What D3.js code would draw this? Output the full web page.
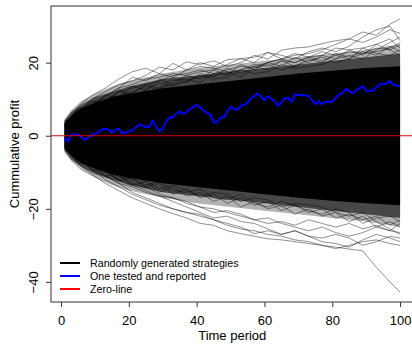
<!DOCTYPE html>
<html>
<head>
<meta charset="utf-8">
<script src="https://cdn.jsdelivr.net/npm/d3@7"></script>
<style>
  body { margin: 0; background: #fff; }
  svg { display: block; font-family: "Liberation Sans", Arial, sans-serif; }
</style>
</head>
<body>
<svg id="chart" width="412" height="345"></svg>
<script>
// one tested strategy, t = 1..100
const reported = [
  -0.5, -1.7, 0.3, 0.4, 0.3, -0.3, -1.2, -0.5, 0.2, 0.5,
  1.0, 1.8, 2.0, 1.6, 0.8, 1.5, 2.0, 0.6, 0.9, 1.2,
  1.5, 2.2, 3.1, 2.8, 2.4, 2.4, 4.2, 2.6, 1.2, 2.0,
  3.8, 5.0, 5.0, 6.1, 6.6, 5.9, 6.5, 7.2, 7.8, 8.5,
  7.8, 7.0, 6.3, 5.8, 3.7, 3.7, 5.0, 5.0, 6.5, 7.9,
  7.4, 7.0, 8.1, 8.5, 9.0, 10.2, 10.8, 11.6, 10.6, 9.7,
  10.8, 10.2, 9.5, 8.1, 9.1, 10.2, 10.4, 9.3, 11.3, 11.2,
  11.1, 11.1, 10.9, 9.8, 8.6, 9.5, 8.6, 9.3, 9.3, 9.3,
  10.4, 11.3, 11.6, 12.9, 12.2, 11.6, 12.4, 12.9, 13.6, 12.3,
  12.3, 12.3, 13.2, 14.1, 14.1, 14.3, 15.0, 14.0, 13.7, 13.6
];

// density of the random strategies
const bandTimes = [1, 3, 6, 10, 15, 20, 30, 40, 50, 60, 70, 80, 90, 100];
const coreUpper = [3.5, 5.5, 7.5, 9, 10.5, 11.5, 13, 14, 15, 16, 17, 17.8, 18.5, 19];
const coreLower = [-3.5, -5.5, -7.5, -9, -10.5, -11.5, -13, -14, -15, -16, -17, -17.8, -18.5, -19];
const midUpper = [4, 6.5, 8.5, 10.5, 12, 13.5, 15.5, 16.5, 17.5, 18.5, 19.5, 20.5, 21.5, 22.5];
const midLower = [-4, -6.5, -8.5, -10.5, -12, -13.5, -15.5, -16.5, -17.5, -18.5, -19.5, -20.5, -21.5, -22.5];
const outerUpper = [4.5, 7, 9.5, 11.5, 13.5, 15, 17, 18.5, 19.5, 20.5, 21.5, 22.5, 23.5, 25];
const outerLower = [-4.5, -7, -9.5, -11.5, -13.5, -15, -17, -18.5, -19.5, -20.5, -21.5, -22.5, -23.5, -25];

// individual strategies visible at the fringes
const fringeTimes = [1, 5, 9, 13, 17, 21, 25, 29, 33, 37, 41, 45, 49, 53, 57, 61, 65, 69, 73, 77, 81, 85, 89, 93, 97, 100];
const upper1 = [1, 3, 5, 7, 8, 10, 12, 13, 14, 15, 16, 16.5, 17, 18, 19, 20, 21, 22, 22.5, 23.5, 25, 26.5, 28.4, 27.5, 30.5, 32];
const upper2 = [2, 8, 11, 13, 15.5, 17.5, 18.5, 17, 19.8, 18, 20, 19, 20.8, 21.1, 20, 22.8, 21, 20, 21.5, 20.5, 22, 21, 22.5, 23, 24, 25.5];
const upper3 = [0.5, 6, 10, 12, 14, 15, 16.5, 18.8, 18, 20.2, 19.5, 20.5, 19, 20, 22, 21, 23.4, 24, 24.3, 25.2, 26, 26.5, 25.5, 27, 29, 28];
const upper4 = [1.5, 5, 8, 11, 13, 14, 15.5, 16, 17, 16.5, 17.5, 18, 19.5, 21.1, 21.5, 22.8, 22, 21, 23, 24, 23, 24.5, 27, 29, 30, 26];
const upper5 = [-0.5, 4, 7, 9, 12, 13, 14, 15, 16.5, 17, 18, 17, 18, 19, 18.5, 20, 21, 22.5, 21.5, 22, 24, 23.5, 24, 25, 26.5, 24];
const upper6 = [1, 7, 9, 10.5, 13, 16, 15, 17, 16, 18, 19, 18.5, 17.5, 18, 19.5, 19, 20.5, 20, 21.5, 23, 22, 23, 22.5, 24, 23.5, 22];
const upper7 = [3, 6, 9.5, 9, 12.5, 11.5, 14, 13, 16, 14.5, 17, 16, 18.5, 17, 19, 18, 20.5, 19, 21, 20, 22.5, 21.5, 23, 22, 24.5, 23];
const upper8 = [2.5, 7.5, 8, 11, 10.5, 13.5, 12.5, 15.5, 14, 16.5, 15.5, 18, 16.5, 19.5, 18, 20, 19, 21.5, 20, 22, 21, 23.5, 22, 25, 23.5, 25];
const upper9 = [4, 5.5, 8.5, 10, 11, 12, 13.5, 12.5, 15, 15.5, 14.5, 17, 17.5, 16, 18.5, 19.5, 18, 19, 20.5, 21.5, 20, 21, 24, 22.5, 22, 23.5];
const upper10 = [3, 7, 7.5, 9.5, 12, 11, 12.5, 14.5, 13.5, 15, 16.5, 15.5, 16, 18, 17, 17.5, 19.5, 18.5, 19, 19.5, 21, 22, 21, 23.5, 25.5, 27];
const lower1 = [-1, -5, -8, -11, -13, -15.5, -17, -18.5, -20, -21, -22, -23, -24.5, -25.5, -26, -27, -27.5, -28.5, -29, -30, -30.5, -31, -31.5, -36, -40, -42.8];
const lower2 = [-2.5, -7.5, -10.5, -13, -15, -17, -18.5, -20, -21.3, -22.5, -24, -24.5, -26, -26.8, -27.5, -28.2, -28.5, -29, -29.5, -30, -30.9, -30, -29, -28.5, -29.5, -30];
const lower3 = [-2, -6, -9, -12, -14, -16, -17.5, -19, -20, -21, -21.5, -23, -24, -25, -26.8, -26, -27, -26, -27.5, -28, -27, -28, -30, -29, -27.5, -28];
const lower4 = [-1.5, -5, -7.5, -10, -12, -13.5, -15, -16.5, -18, -19.5, -21, -22.5, -22, -23.5, -24, -25.5, -27, -26, -27.5, -29, -29.5, -30.5, -28.5, -27, -28, -29];
const lower5 = [0, -4, -7, -9.5, -11, -13, -14, -16, -17, -18, -19.5, -20, -21, -22, -23, -22.5, -24, -25, -26, -25, -26.5, -27.5, -26.5, -25, -26, -24];
const lower6 = [-2, -6.5, -9, -11, -13, -14, -15.5, -16.5, -17, -18.5, -19.5, -21, -20.5, -21.5, -23, -24, -23.5, -24.5, -23, -24, -25, -24, -25.5, -24.5, -26, -26.5];
const lower7 = [-3, -6, -9.5, -9, -12.5, -11.5, -14, -13, -16, -14.5, -17, -16, -18.5, -17, -19, -18, -20.5, -19, -21, -20, -22.5, -21.5, -23, -22, -24.5, -23];
const lower8 = [-2.5, -7.5, -8, -11, -10.5, -13.5, -12.5, -15.5, -14, -16.5, -15.5, -18, -16.5, -19.5, -18, -20, -19, -21.5, -20, -22, -21, -23.5, -22, -25, -23.5, -25];
const lower9 = [-4, -5.5, -8.5, -10, -11, -12, -13.5, -12.5, -15, -15.5, -14.5, -17, -17.5, -16, -18.5, -19.5, -18, -19, -20.5, -21.5, -20, -21, -24, -22.5, -22, -23.5];
const lower10 = [-3, -7, -7.5, -9.5, -12, -11, -12.5, -14.5, -13.5, -15, -16.5, -15.5, -16, -18, -17, -17.5, -19.5, -18.5, -19, -19.5, -21, -22, -21, -23.5, -25.5, -27];

const xTicks = [0, 20, 40, 60, 80, 100];
const yTicks = [-40, -20, 0, 20];
const legendLabels = ["Randomly generated strategies", "One tested and reported", "Zero-line"];
const legendColors = ["#000000", "#0000ff", "#ff0000"];

const LEFT = 51, RIGHT = 413.5, TOP = 6, BOTTOM = 302;

const svg = d3.select("#chart");
const x = d3.scaleLinear().domain([-2.96, 103.96]).range([LEFT, RIGHT]);
const y = d3.scaleLinear().domain([-45.5, 35.5]).range([BOTTOM, TOP]);

svg.append("clipPath").attr("id", "plotClip")
  .append("rect")
  .attr("x", LEFT).attr("y", TOP)
  .attr("width", RIGHT - LEFT).attr("height", BOTTOM - TOP);

const plot = svg.append("g").attr("clip-path", "url(#plotClip)");

function drawBand(upper, lower, opacity) {
  const rows = bandTimes.map((t, i) => ({ t, hi: upper[i], lo: lower[i] }));
  plot.append("path")
    .datum(rows)
    .attr("fill", "#000")
    .attr("fill-opacity", opacity)
    .attr("d", d3.area()
      .x(d => x(d.t))
      .y0(d => y(d.lo))
      .y1(d => y(d.hi)));
}
drawBand(outerUpper, outerLower, 0.3);
drawBand(midUpper, midLower, 0.6);
drawBand(coreUpper, coreLower, 1);

const fringeLine = d3.line().x(d => x(d[0])).y(d => y(d[1]));
[upper1, upper2, upper3, upper4, upper5, upper6, upper7, upper8, upper9, upper10,
 lower1, lower2, lower3, lower4, lower5, lower6, lower7, lower8, lower9, lower10].forEach(vals => {
  plot.append("path")
    .datum(fringeTimes.map((t, i) => [t, vals[i]]))
    .attr("fill", "none")
    .attr("stroke", "#000")
    .attr("stroke-opacity", 0.55)
    .attr("stroke-width", 0.8)
    .attr("d", fringeLine);
});

plot.append("path")
  .datum(reported.map((v, i) => [i + 1, v]))
  .attr("fill", "none")
  .attr("stroke", "#0000ff")
  .attr("stroke-width", 2)
  .attr("stroke-linejoin", "round")
  .attr("d", fringeLine);

plot.append("line")
  .attr("x1", LEFT).attr("x2", RIGHT)
  .attr("y1", y(0)).attr("y2", y(0))
  .attr("stroke", "#e00000")
  .attr("stroke-width", 1.2);

// axes
const gx = svg.append("g")
  .attr("transform", `translate(0,${BOTTOM})`)
  .call(d3.axisBottom(x).tickValues(xTicks).tickSize(5).tickPadding(9).tickSizeOuter(0));
gx.select(".domain").remove();
gx.selectAll(".tick line").attr("stroke", "#333");
gx.selectAll(".tick text").attr("font-size", 13).attr("font-family", "Liberation Sans, Arial, sans-serif").attr("fill", "#000");

const gy = svg.append("g")
  .attr("transform", `translate(${LEFT},0)`)
  .call(d3.axisLeft(y).tickValues(yTicks).tickSize(5).tickSizeOuter(0));
gy.select(".domain").remove();
gy.selectAll(".tick line").attr("stroke", "#333");
gy.selectAll(".tick text")
  .attr("x", 0).attr("dy", 0)
  .attr("text-anchor", "middle")
  .attr("transform", "translate(-13,0) rotate(-90)")
  .attr("font-size", 13).attr("font-family", "Liberation Sans, Arial, sans-serif").attr("fill", "#000");

svg.append("rect")
  .attr("x", LEFT).attr("y", TOP)
  .attr("width", RIGHT - LEFT).attr("height", BOTTOM - TOP)
  .attr("fill", "none")
  .attr("stroke", "#333")
  .attr("stroke-width", 1);

svg.append("text")
  .attr("x", (LEFT + RIGHT) / 2).attr("y", 340)
  .attr("text-anchor", "middle")
  .attr("font-size", 13)
  .text("Time period");

svg.append("text")
  .attr("transform", `translate(19,${(TOP + BOTTOM) / 2}) rotate(-90)`)
  .attr("text-anchor", "middle")
  .attr("font-size", 13)
  .text("Cummulative profit");

// legend
const legend = svg.append("g");
legendLabels.forEach((label, i) => {
  const ly = 263 + i * 13;
  legend.append("line")
    .attr("x1", 60).attr("x2", 80)
    .attr("y1", ly).attr("y2", ly)
    .attr("stroke", legendColors[i])
    .attr("stroke-width", 2);
  legend.append("text")
    .attr("x", 90).attr("y", ly)
    .attr("dy", "0.35em")
    .attr("font-size", 10.7)
    .text(label);
});
</script>
</body>
</html>
